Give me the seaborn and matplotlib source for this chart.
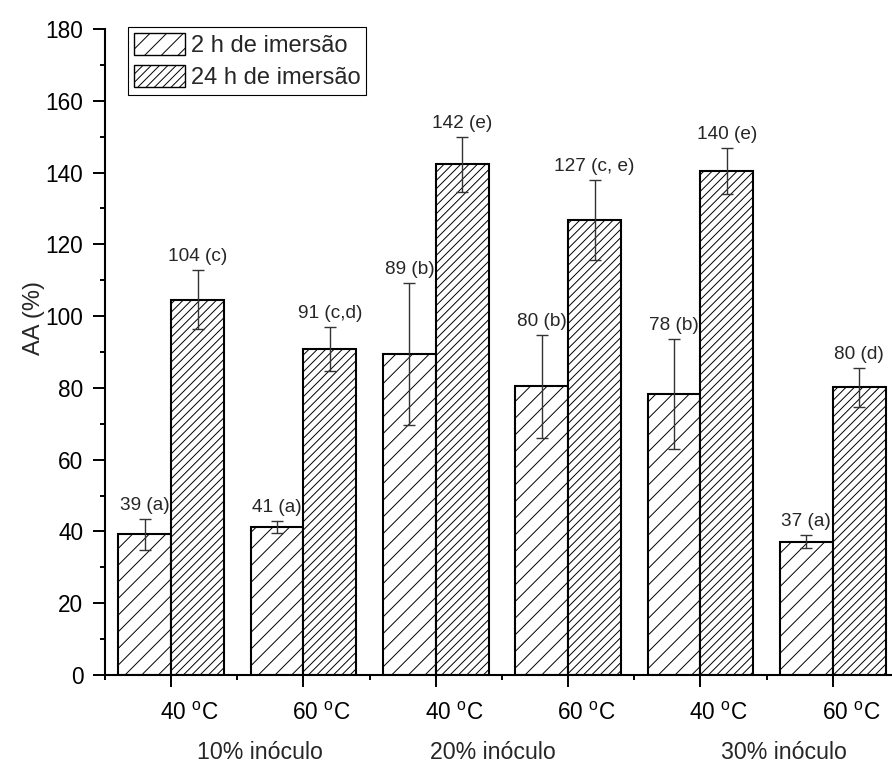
import numpy as np
import pandas as pd
import matplotlib
matplotlib.use('Agg')
import matplotlib.pyplot as plt
import matplotlib.transforms as mtransforms
from matplotlib.patches import Patch
import seaborn as sns

# dados
condicoes = ['10_40', '10_60', '20_40', '20_60', '30_40', '30_60']
temperaturas = [r'40 $^{\mathrm{o}}$C', r'60 $^{\mathrm{o}}$C'] * 3
inoculos = ['10% inóculo', '20% inóculo', '30% inóculo']
tempos = ['2 h de imersão', '24 h de imersão']

aa_2h = [39.2, 41.2, 89.5, 80.4, 78.4, 37.2]
aa_24h = [104.6, 90.8, 142.3, 126.8, 140.4, 80.2]
err_2h = [4.3, 1.6, 19.7, 14.3, 15.3, 1.8]
err_24h = [8.2, 6.1, 7.7, 11.1, 6.5, 5.4]
rotulos_2h = ['39 (a)', '41 (a)', '89 (b)', '80 (b)', '78 (b)', '37 (a)']
rotulos_24h = ['104 (c)', '91 (c,d)', '142 (e)', '127 (c, e)', '140 (e)', '80 (d)']

df = pd.DataFrame({
    'cond': condicoes * 2,
    'tempo': [tempos[0]] * 6 + [tempos[1]] * 6,
    'aa': aa_2h + aa_24h,
    'err': err_2h + err_24h,
    'rotulo': rotulos_2h + rotulos_24h,
})

sns.set_style('ticks')
plt.rcParams['font.family'] = ['Liberation Sans', 'DejaVu Sans']
plt.rcParams['mathtext.fontset'] = 'custom'
plt.rcParams['mathtext.rm'] = 'Liberation Sans'
plt.rcParams['hatch.linewidth'] = 0.7
plt.rcParams['hatch.color'] = 'black'

fig = plt.figure(figsize=(8.92, 7.63), dpi=100)
ax = fig.add_axes([0.1177, 0.1153, 0.8901, 0.8467])

sns.barplot(
    data=df, x='cond', y='aa', hue='tempo',
    order=condicoes, hue_order=tempos,
    palette=['white', 'white'], edgecolor='black', linewidth=1.5,
    errorbar=None, width=0.8, legend=False, ax=ax
)

hatches = {tempos[0]: '//', tempos[1]: '////'}
barras = [p for p in ax.patches if p.get_width() > 0]
centros = {t: [] for t in tempos}
for p in barras:
    xc = p.get_x() + p.get_width() / 2
    tempo = tempos[0] if xc < round(xc) else tempos[1]
    p.set_hatch(hatches[tempo])
    centros[tempo].append(xc)

for tempo in tempos:
    sub = df[df['tempo'] == tempo].set_index('cond').loc[condicoes]
    xs = sorted(centros[tempo])
    ax.errorbar(xs, sub['aa'], yerr=sub['err'], fmt='none', ecolor='#333333',
                elinewidth=1.0, capsize=4.3, capthick=1.0, zorder=3)
    for x, v, e, txt in zip(xs, sub['aa'], sub['err'], sub['rotulo']):
        ax.annotate(txt, xy=(x, v + e), xytext=(0, 5), textcoords='offset pixels',
                    ha='center', va='bottom', fontsize=13.7)

ax.set_xlim(-0.5, 5.5)
ax.set_ylim(0, 180)
ax.set_yticks(np.arange(0, 181, 20))
ax.set_yticks(np.arange(0, 181, 10), minor=True)
ax.set_xticks(range(6))
ax.set_xticklabels(temperaturas)
ax.set_xticks(np.arange(-0.5, 6, 1), minor=True)
ax.set_xlabel('')
ax.set_ylabel('AA (%)', fontsize=17)
ax.yaxis.set_label_coords(-0.076, 0.553)

ax.tick_params(axis='both', which='major', length=8.5, width=1.4,
               labelsize=16.3, color='black', labelcolor='black')
ax.tick_params(axis='both', which='minor', length=3.6, width=1.4, color='black')
ax.tick_params(axis='x', which='major', pad=11)
ax.tick_params(axis='y', which='major', pad=7)

desloc = mtransforms.ScaledTranslation(0.18, 0, fig.dpi_scale_trans)
for lab in ax.get_xticklabels():
    lab.set_transform(lab.get_transform() + desloc)

for sp in ['top', 'right']:
    ax.spines[sp].set_visible(False)
for sp in ['left', 'bottom']:
    ax.spines[sp].set_linewidth(1.5)
    ax.spines[sp].set_color('black')

ajuste = [0.17, -0.07, 0.13]
for i, (nome, dx) in enumerate(zip(inoculos, ajuste)):
    ax.annotate(nome, xy=(2 * i + 0.5 + dx, 0), xycoords=('data', 'axes fraction'),
                xytext=(0, -77), textcoords='offset pixels',
                ha='center', va='center', fontsize=16.7)

alcas = [Patch(facecolor='white', edgecolor='black', linewidth=1.0, hatch=hatches[t])
         for t in tempos]
leg = ax.legend(alcas, tempos, loc='upper left',
                bbox_to_anchor=(0.029, 1.003), borderaxespad=0,
                fontsize=17, frameon=True, fancybox=False, framealpha=1,
                edgecolor='black', handlelength=2.15, handleheight=1.05,
                handletextpad=0.25, labelspacing=0.35, borderpad=0.25)
leg.get_frame().set_linewidth(0.8)

fig.savefig('out.png', dpi=100)
